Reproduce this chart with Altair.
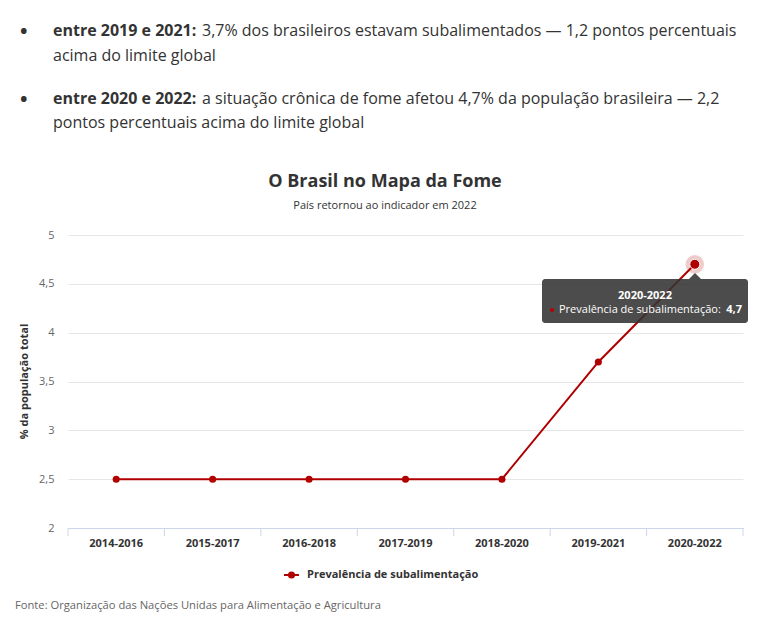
import altair as alt
import pandas as pd

periods = ["2014-2016", "2015-2017", "2016-2018", "2017-2019", "2018-2020", "2019-2021", "2020-2022"]
values = [2.5, 2.5, 2.5, 2.5, 2.5, 3.7, 4.7]
series_name = "Prevalência de subalimentação"
y_ticks = [2, 2.5, 3, 3.5, 4, 4.5, 5]

title = "O Brasil no Mapa da Fome"
subtitle = "País retornou ao indicador em 2022"
y_title = "% da população total"
source = "Fonte: Organização das Nações Unidas para Alimentação e Agricultura"
bullets = [
    ("entre 2019 e 2021:", "3,7% dos brasileiros estavam subalimentados — 1,2 pontos percentuais", "acima do limite global"),
    ("entre 2020 e 2022:", "a situação crônica de fome afetou 4,7% da população brasileira — 2,2", "pontos percentuais acima do limite global"),
]

RED = "#b00000"
FONT = "Open Sans"
W, H = 675, 293

df = pd.DataFrame({"period": periods, "value": values})
last = df.iloc[[-1]]
one = pd.DataFrame({"k": [0]})

xenc = alt.X("period:N", sort=periods,
             scale=alt.Scale(paddingInner=0, paddingOuter=0),
             axis=alt.Axis(title=None, labelAngle=0, ticks=False, labelPadding=9,
                           labelFont=FONT, labelFontSize=11, labelFontWeight="bold",
                           labelColor="#333333", domainColor="#ccd6eb", grid=False))
yenc = alt.Y("value:Q", scale=alt.Scale(domain=[2, 5], nice=False),
             axis=alt.Axis(title=None, values=y_ticks, ticks=False, domain=False,
                           labelPadding=14, labelFont=FONT, labelFontSize=11,
                           labelColor="#666666", gridColor="#e6e6e6",
                           labelExpr="replace(format(datum.value, ''), '.', ',')"))

base = alt.Chart(df)
line = base.mark_line(color=RED, strokeWidth=2).encode(x=xenc, y=yenc)
pts = base.mark_point(filled=True, color=RED, size=50, opacity=1).encode(
    x=alt.X("period:N", sort=periods), y="value:Q")
ticks = base.mark_rule(color="#ccd6eb").encode(
    x=alt.X("period:N", sort=periods, bandPosition=0), y=alt.value(H), y2=alt.value(H + 8))
tick_end = alt.Chart(one).mark_rule(color="#ccd6eb").encode(
    x=alt.value(W), y=alt.value(H), y2=alt.value(H + 8))

halo = alt.Chart(last).mark_point(filled=True, color=RED, size=340, opacity=0.2).encode(
    x=alt.X("period:N", sort=periods), y="value:Q")
hover = alt.Chart(last).mark_point(filled=True, color=RED, size=100, opacity=1,
                                   stroke="white", strokeWidth=1).encode(
    x=alt.X("period:N", sort=periods), y="value:Q")

layers = [line, ticks, tick_end, pts, halo, hover]

def txt(s, x, y, size=11, weight="normal", color="#333333", align="left", angle=0):
    kw = dict(text=s, font=FONT, fontSize=size, fontWeight=weight, color=color,
              align=align, baseline="middle")
    if angle:
        kw["angle"] = angle
    return alt.Chart(one).mark_text(**kw).encode(x=alt.value(x), y=alt.value(y))

# tooltip
box = alt.Chart(one).mark_rect(color="#333333", opacity=0.88, cornerRadius=3).encode(
    x=alt.value(474), x2=alt.value(680), y=alt.value(44), y2=alt.value(88))
arrow = alt.Chart(one).mark_point(shape="M-1,0.5L0,-0.5L1,0.5Z", filled=True,
                                  color="#333333", opacity=0.88, size=144).encode(
    x=alt.value(627), y=alt.value(41))
tdot = alt.Chart(one).mark_point(filled=True, color=RED, size=18, opacity=1).encode(
    x=alt.value(484), y=alt.value(75))
val_txt = str(values[-1]).replace(".", ",")
layers += [box, arrow, tdot,
           txt(periods[-1], 577, 61, weight="bold", color="white", align="center"),
           txt(series_name + ":", 491, 75, color="white"),
           txt(val_txt, 674, 75, weight="bold", color="white", align="right")]

# titles
layers += [txt(title, 317, -53, size=18, weight="bold", align="center"),
           txt(subtitle, 317, -29, size=11, align="center"),
           txt(y_title, -43, H / 2, size=11, weight="bold", align="center", angle=270)]

# legend
leg_line = alt.Chart(one).mark_rule(color=RED, strokeWidth=2).encode(
    x=alt.value(216), x2=alt.value(231), y=alt.value(340))
leg_pt = alt.Chart(one).mark_point(filled=True, color=RED, size=50, opacity=1).encode(
    x=alt.value(223.5), y=alt.value(340))
layers += [leg_line, leg_pt, txt(series_name, 239, 340, weight="bold")]

# source
layers += [txt(source, -53, 371, size=11.2, color="#666666")]

# bullets
ys = [(-204, -179), (-136, -112)]
for (b, r1, r2), (y1, y2) in zip(bullets, ys):
    layers += [txt("•", -48, y1 + 1, size=20, weight="bold", color="#333333"),
               txt(b, -15, y1, size=16, weight="bold"),
               txt(r1, 134, y1, size=16),
               txt(r2, -15, y2, size=16)]

chart = alt.layer(*layers).properties(
    width=W, height=H,
    autosize=alt.AutoSizeParams(type="none"),
    padding={"left": 68, "top": 235, "right": 29, "bottom": 100},
    background="white",
).configure_view(stroke=None)

chart.save("out.html", embed_options={"renderer": "svg", "actions": False})
